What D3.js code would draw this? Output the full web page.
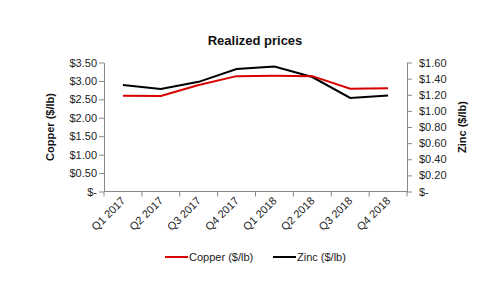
<!DOCTYPE html>
<html>
<head>
<meta charset="utf-8">
<script src="https://cdn.jsdelivr.net/npm/d3@7"></script>
<style>
  body { margin: 0; background: #fff; }
  text { font-family: "Liberation Sans", Arial, sans-serif; }
</style>
</head>
<body>
<svg id="chart"></svg>
<script>
var quarters = ["Q1 2017", "Q2 2017", "Q3 2017", "Q4 2017", "Q1 2018", "Q2 2018", "Q3 2018", "Q4 2018"];
var copper = [2.60, 2.59, 2.89, 3.13, 3.14, 3.13, 2.79, 2.80];
var zinc = [1.32, 1.27, 1.36, 1.52, 1.55, 1.42, 1.16, 1.19];
var copperTicks = [0, 0.5, 1, 1.5, 2, 2.5, 3, 3.5];
var zincTicks = [0, 0.2, 0.4, 0.6, 0.8, 1.0, 1.2, 1.4, 1.6];

var width = 504;
var height = 297;
var plotLeft = 104, plotRight = 407, plotTop = 62.5, plotBottom = 191.5;

var svg = d3.select("#chart")
            .attr("width", width)
            .attr("height", height);

var x = d3.scaleBand()
          .domain(quarters)
          .range([plotLeft, plotRight]);

var yCu = d3.scaleLinear().domain([0, 3.5]).range([plotBottom, plotTop]);
var yZn = d3.scaleLinear().domain([0, 1.6]).range([plotBottom, plotTop]);

var money = function(d)
{
  return d === 0 ? "$-" : "$" + d.toFixed(2);
};

// left axis
var gL = svg.append("g")
            .attr("transform", "translate(" + plotLeft + ",0)")
            .call(d3.axisLeft(yCu).tickValues(copperTicks).tickFormat(money).tickSize(5).tickSizeOuter(0));

// right axis
var gR = svg.append("g")
            .attr("transform", "translate(" + plotRight + ",0)")
            .call(d3.axisRight(yZn).tickValues(zincTicks).tickFormat(money).tickSize(5).tickSizeOuter(0));

// bottom axis, ticks between categories
var gB = svg.append("g")
            .attr("transform", "translate(0," + plotBottom + ")");
gB.append("line")
  .attr("x1", plotLeft).attr("x2", plotRight)
  .attr("stroke", "#888");
gB.selectAll(".tk")
  .data(quarters.concat(["end"]))
  .enter()
  .append("line")
  .attr("x1", function(d, i) { return plotLeft + i * x.step(); })
  .attr("x2", function(d, i) { return plotLeft + i * x.step(); })
  .attr("y1", 0).attr("y2", 5)
  .attr("stroke", "#888");
gB.selectAll(".lbl")
  .data(quarters)
  .enter()
  .append("text")
  .text(function(d) { return d; })
  .attr("text-anchor", "end")
  .attr("font-size", 11)
  .attr("fill", "#222")
  .attr("transform", function(d)
  {
    return "translate(" + (x(d) + x.bandwidth() / 2 + 3) + ",10) rotate(-45)";
  });

[gL, gR].forEach(function(g)
{
  g.selectAll("path, line").attr("stroke", "#888");
  g.selectAll("text").attr("font-size", 11).attr("fill", "#222");
});
gL.selectAll("text").attr("x", -7);
gR.selectAll("text").attr("x", 12);

// lines
var lineCu = d3.line()
               .x(function(d, i) { return x(quarters[i]) + x.bandwidth() / 2; })
               .y(function(d) { return yCu(d); });
var lineZn = d3.line()
               .x(function(d, i) { return x(quarters[i]) + x.bandwidth() / 2; })
               .y(function(d) { return yZn(d); });

svg.append("path")
   .datum(zinc)
   .attr("d", lineZn)
   .attr("fill", "none")
   .attr("stroke", "#000")
   .attr("stroke-width", 2);

svg.append("path")
   .datum(copper)
   .attr("d", lineCu)
   .attr("fill", "none")
   .attr("stroke", "#d80000")
   .attr("stroke-width", 2);

// titles
svg.append("text")
   .text("Realized prices")
   .attr("x", 255).attr("y", 45)
   .attr("text-anchor", "middle")
   .attr("font-size", 13)
   .attr("font-weight", "bold")
   .attr("fill", "#111");

svg.append("text")
   .text("Copper ($/lb)")
   .attr("transform", "translate(54,127) rotate(-90)")
   .attr("text-anchor", "middle")
   .attr("font-size", 11)
   .attr("font-weight", "bold")
   .attr("fill", "#111");

svg.append("text")
   .text("Zinc ($/lb)")
   .attr("transform", "translate(466,127) rotate(-90)")
   .attr("text-anchor", "middle")
   .attr("font-size", 11)
   .attr("font-weight", "bold")
   .attr("fill", "#111");

/*Add legend*/
var legendData = [
  { name: "Copper ($/lb)", color: "#d80000", x: 165 },
  { name: "Zinc ($/lb)", color: "#000", x: 273 }
];
var legend = svg.append("g");
legend.selectAll("line")
      .data(legendData)
      .enter()
      .append("line")
      .attr("x1", function(d) { return d.x; })
      .attr("x2", function(d) { return d.x + 23; })
      .attr("y1", 257).attr("y2", 257)
      .attr("stroke", function(d) { return d.color; })
      .attr("stroke-width", 2);
legend.selectAll("text")
      .data(legendData)
      .enter()
      .append("text")
      .text(function(d) { return d.name; })
      .attr("x", function(d) { return d.x + 24; })
      .attr("y", 261)
      .attr("font-size", 11)
      .attr("fill", "#222");
</script>
</body>
</html>
